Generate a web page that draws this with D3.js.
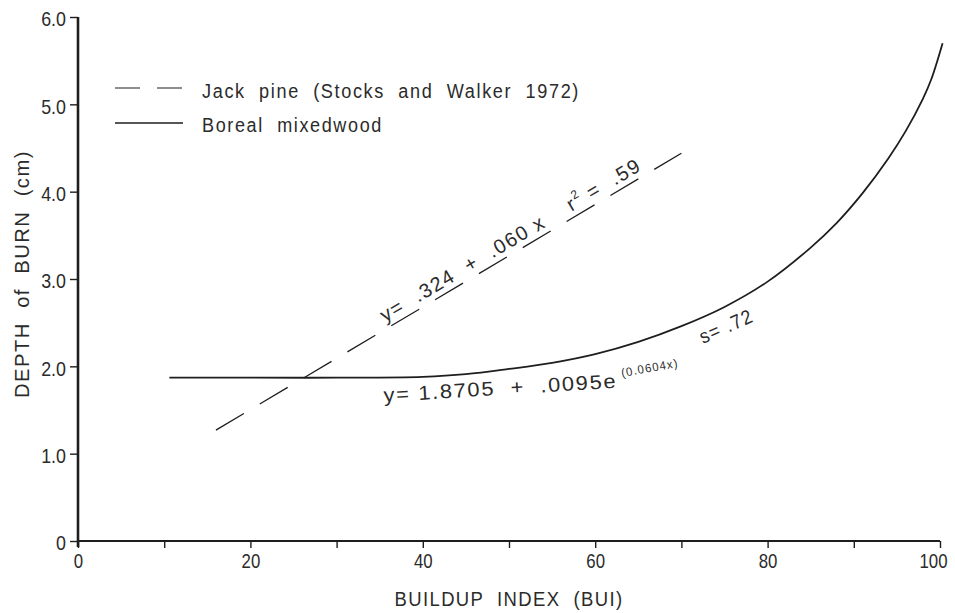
<!DOCTYPE html>
<html>
<head>
<meta charset="utf-8">
<script src="https://cdn.jsdelivr.net/npm/d3@7"></script>
<style>
  html, body { margin: 0; padding: 0; background: #fff; }
  svg { display: block; }
  text { font-family: "Liberation Sans", Arial, sans-serif; fill: #2b2b2b; }
</style>
</head>
<body>
<svg id="chart" width="955" height="613"></svg>
<script>
// Buildup index (x) and depth of burn in cm (y)
const xMajorTicks = [0, 20, 40, 60, 80, 100];
const xMinorTicks = [10, 30, 50, 70, 90];
const yTicks = [0, 1, 2, 3, 4, 5, 6];
const yTickLabels = ["0", "1.0", "2.0", "3.0", "4.0", "5.0", "6.0"];

// Jack pine regression line (Stocks and Walker 1972), end points
const jackPineBUI = [16, 70];
const jackPineDepth = [1.27, 4.44];

// Boreal mixedwood exponential curve
const borealBUI   = [10.6, 20, 30, 40, 45, 50, 55, 60, 65, 70, 75, 80, 85, 88, 91, 94, 96, 98, 99, 100.3];
const borealDepth = [1.87, 1.87, 1.87, 1.88, 1.91, 1.97, 2.04, 2.14, 2.28, 2.46, 2.68, 2.97, 3.36, 3.64, 3.98, 4.38, 4.69, 5.06, 5.29, 5.70];

const legendLabels = ["Jack  pine  (Stocks  and  Walker  1972)", "Boreal  mixedwood"];

const svg = d3.select("#chart");
const x = d3.scaleLinear().domain([0, 100]).range([78, 940]);
const y = d3.scaleLinear().domain([0, 6]).range([541, 17]);
const ink = "#1e1e1e";

// Narrow the glyphs of a text selection by a factor (condensed face)
function squeeze(sel, factor) {
  sel.each(function () {
    const L = this.getComputedTextLength();
    d3.select(this).attr("textLength", L * factor).attr("lengthAdjust", "spacingAndGlyphs");
  });
}
// Label with a fixed drawn length
function label(parent, transform, str, size, length, spacing) {
  return parent.append("text")
    .attr("transform", transform)
    .attr("font-size", size)
    .style("letter-spacing", (spacing || 0) + "px")
    .style("white-space", "pre")
    .attr("textLength", length).attr("lengthAdjust", "spacingAndGlyphs")
    .text(str);
}

// Axes
const xAxis = d3.axisBottom(x)
  .tickValues(xMajorTicks.concat(xMinorTicks).sort((a, b) => a - b))
  .tickSize(7).tickPadding(5)
  .tickFormat(d => xMajorTicks.includes(d) ? d : "");
const gx = svg.append("g").attr("transform", `translate(0,${y(0)})`).call(xAxis);
gx.select(".domain").attr("d", `M${x(0)},0H${x(100)}`).attr("stroke", ink).attr("stroke-width", 2.2);
gx.selectAll(".tick line").attr("stroke", ink).attr("stroke-width", 1.4);
gx.selectAll(".tick text").attr("font-size", 21).attr("fill", "#2b2b2b")
  .style("font-family", "'Liberation Sans',Arial,sans-serif")
  .call(squeeze, 0.8);
gx.selectAll(".tick text").filter(d => d === 100).attr("x", -7);

const yAxis = d3.axisLeft(y)
  .tickValues(yTicks).tickSize(8).tickPadding(4)
  .tickFormat((d, i) => yTickLabels[i]);
const gy = svg.append("g").attr("transform", `translate(${x(0)},0)`).call(yAxis);
gy.select(".domain").attr("d", `M0,${y(0) + 6}V${y(6)}`).attr("stroke", ink).attr("stroke-width", 2.6);
gy.selectAll(".tick line").attr("stroke", ink).attr("stroke-width", 1.4);
gy.selectAll(".tick text").attr("font-size", 21).attr("fill", "#2b2b2b").attr("dy", "0.42em")
  .style("font-family", "'Liberation Sans',Arial,sans-serif")
  .call(squeeze, 0.85);

// Axis titles
label(svg, "translate(509,606)", "BUILDUP  INDEX  (BUI)", 20, 229, 1.5).attr("text-anchor", "middle");
label(svg, "translate(29,274) rotate(-90)", "DEPTH  of  BURN  (cm)", 20, 248, 1.5).attr("text-anchor", "middle");

// Series
const line = d3.line().x(d => x(d[0])).y(d => y(d[1]));

svg.append("path")
  .datum(jackPineBUI.map((v, i) => [v, jackPineDepth[i]]))
  .attr("d", line)
  .attr("fill", "none").attr("stroke", ink).attr("stroke-width", 1.3)
  .attr("stroke-dasharray", "32.5,18.5");

svg.append("path")
  .datum(borealBUI.map((v, i) => [v, borealDepth[i]]))
  .attr("d", line.curve(d3.curveCatmullRom.alpha(0.5)))
  .attr("fill", "none").attr("stroke", ink).attr("stroke-width", 1.8);

// Jack pine equation, set along the dashed line
const x0 = x(jackPineBUI[0]), y0 = y(jackPineDepth[0]);
const x1 = x(jackPineBUI[1]), y1 = y(jackPineDepth[1]);
const ang = Math.atan2(y1 - y0, x1 - x0);
const t = (388 - x0) / (x1 - x0);
const px = x0 + t * (x1 - x0) + 6 * Math.sin(ang);
const py = y0 + t * (y1 - y0) - 6 * Math.cos(ang);
const eq = svg.append("text")
  .attr("transform", `translate(${px},${py}) rotate(${ang * 180 / Math.PI})`)
  .attr("font-size", 20)
  .style("letter-spacing", "1.5px")
  .style("white-space", "pre")
  .attr("textLength", 300).attr("lengthAdjust", "spacingAndGlyphs");
eq.append("tspan").text("y=  .324  +  .060 x    r");
eq.append("tspan").attr("font-size", 12).attr("dy", -9).text("2");
eq.append("tspan").attr("dy", 9).text(" =  .59");

// Boreal mixedwood equation, following the curve
label(svg, "translate(384,402) rotate(-3.5)", "y= 1.8705  +  .0095e", 20, 234, 1.5);
label(svg, "translate(622,377) rotate(-10)", "(0.0604x)", 12, 58, 1.2);
label(svg, "translate(703,344) rotate(-24)", "s= .72", 20, 57, 1.5);

// Legend
const legend = svg.append("g");
legend.append("line")
  .attr("x1", 115).attr("x2", 183).attr("y1", 88).attr("y2", 88)
  .attr("stroke", ink).attr("stroke-width", 1.2).attr("stroke-dasharray", "25,17");
legend.append("line")
  .attr("x1", 115).attr("x2", 183).attr("y1", 123).attr("y2", 123)
  .attr("stroke", ink).attr("stroke-width", 1.6);
label(legend, "translate(202,98)", legendLabels[0], 20, 378, 1.8);
label(legend, "translate(202,132)", legendLabels[1], 20, 181, 1.8);
</script>
</body>
</html>
